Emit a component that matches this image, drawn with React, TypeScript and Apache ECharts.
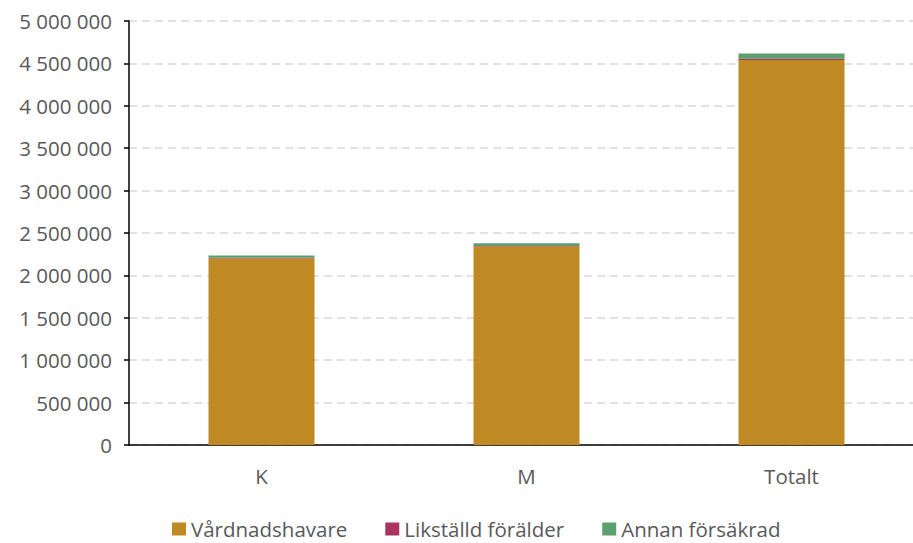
import React, { useEffect, useRef } from "react";
import * as echarts from "echarts";

const categories = ["K", "M", "Totalt"];
const vardnadshavare = [2200000, 2340000, 4540000];
const likstalld = [8000, 8000, 16000];
const annan = [28000, 32000, 60000];
const seriesNames = ["Vårdnadshavare", "Likställd förälder", "Annan försäkrad"];
const colors = ["#BF8A24", "#A8345F", "#5B9F6E"];

const fmt = (v: number) => String(Math.round(v)).replace(/\B(?=(\d{3})+(?!\d))/g, " ");

export default function App() {
  const ref = useRef<HTMLDivElement>(null);
  useEffect(() => {
    document.body.style.margin = "0";
    const chart = echarts.init(ref.current!, null, { renderer: "svg" });
    const font = "'Open Sans', 'Noto Sans', sans-serif";
    const data = [vardnadshavare, likstalld, annan];
    chart.setOption({
      animation: false,
      textStyle: { fontFamily: font },
      grid: { left: 129, top: 21, width: 795, height: 424, containLabel: false },
      legend: {
        top: 516,
        left: 172,
        padding: 0,
        itemWidth: 14,
        itemHeight: 13,
        itemGap: 38,
        icon: "rect",
        textStyle: { fontSize: 20.5, color: "#595959", fontFamily: font, lineHeight: 26 },
        data: seriesNames,
      },
      xAxis: {
        type: "category",
        data: categories,
        axisLine: { lineStyle: { color: "#000", width: 1.5 } },
        axisTick: { show: false },
        axisLabel: { fontSize: 20.5, color: "#595959", margin: 20 },
      },
      yAxis: {
        type: "value",
        min: 0,
        max: 5000000,
        interval: 500000,
        axisLine: { show: true, lineStyle: { color: "#000", width: 1.5 } },
        axisTick: { show: true, length: 5, lineStyle: { color: "#000", width: 1.5 } },
        axisLabel: { fontSize: 20.5, color: "#595959", margin: 17, formatter: (v: number) => fmt(v) },
        splitLine: { lineStyle: { color: "#d9d9d9", type: [8, 5], width: 1.5 } },
      },
      series: seriesNames.map((n, i) => ({
        name: n,
        type: "bar",
        stack: "total",
        barWidth: 106,
        itemStyle: { color: colors[i] },
        data: data[i],
      })),
    });
    return () => chart.dispose();
  }, []);
  return (
    <div style={{ width: 913, height: 543, overflow: "hidden" }}>
      <div ref={ref} style={{ width: 930, height: 543 }} />
    </div>
  );
}
